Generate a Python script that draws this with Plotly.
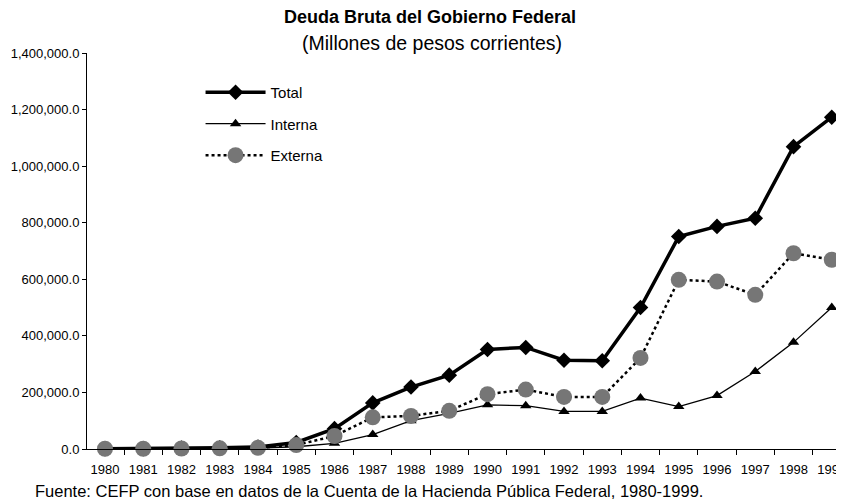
import plotly.graph_objects as go

years = [str(y) for y in range(1980, 2000)]
total = [1200, 1500, 3000, 4000, 7000, 23000, 72000, 163000, 219000, 261000,
         352000, 359000, 314000, 312000, 500000, 751000, 787000, 816000, 1069000, 1173000]
interna = [400, 600, 1200, 1500, 3000, 8000, 20000, 51000, 100000, 126000,
           156000, 153000, 133000, 133000, 180000, 150000, 189000, 274000, 377000, 500000]
externa = [800, 900, 1800, 2500, 4000, 14000, 46000, 112000, 117000, 135000,
           194000, 210000, 184000, 184000, 322000, 598000, 592000, 545000, 692000, 669000]

title_text = "<b>Deuda Bruta del Gobierno Federal</b>"
subtitle_text = "(Millones de pesos corrientes)"
source_text = "Fuente: CEFP con base en datos de la Cuenta de la Hacienda Pública Federal, 1980-1999."

FONT = "Liberation Sans, Arial, sans-serif"

fig = go.Figure()
fig.add_trace(go.Scatter(
    x=years, y=total, name="Total", mode="lines+markers",
    line=dict(color="black", width=3.5),
    marker=dict(symbol="diamond", size=12, color="black"),
    cliponaxis=False, legendgroup="a"))
fig.add_trace(go.Scatter(
    x=years, y=interna, name="Interna", mode="lines+markers",
    line=dict(color="black", width=1.3),
    marker=dict(symbol="triangle-up", size=10, color="black"),
    cliponaxis=False, legendgroup="b"))
fig.add_trace(go.Scatter(
    x=years, y=externa, name="Externa", mode="lines+markers",
    line=dict(color="black", width=2.5, dash="dot"),
    marker=dict(symbol="circle", size=16, color="#767676"),
    cliponaxis=False, legendgroup="c"))

# the page body has an 8px margin, so the figure is 8px smaller and offset
fig.update_layout(
    width=836, height=495,
    margin=dict(l=79, r=0, t=45, b=54, autoexpand=False),
    paper_bgcolor="white", plot_bgcolor="white",
    font=dict(family=FONT, color="black"),
    showlegend=True,
    legend=dict(x=0.150, y=0.942, xanchor="left", yanchor="top",
                font=dict(size=15, family=FONT), bgcolor="rgba(0,0,0,0)",
                traceorder="grouped", tracegroupgap=9, itemwidth=60),
    xaxis=dict(type="category", range=[-0.47, 19.32], showline=True, linecolor="black",
               linewidth=1, ticks="outside", tickson="boundaries", ticklen=5,
               tickcolor="black", showgrid=False, zeroline=False, automargin=False,
               ticklabelstandoff=8,
               tickfont=dict(size=13, family=FONT)),
    yaxis=dict(range=[0, 1400000], dtick=200000, tickformat=",.1f", showline=True,
               linecolor="black", linewidth=1, ticks="outside", ticklen=4,
               tickcolor="black", showgrid=False, zeroline=False, automargin=False,
               tickfont=dict(size=13, family=FONT)),
    annotations=[
        dict(text=title_text, xref="paper", yref="paper", x=0.453, y=1.0917,
             xanchor="center", yanchor="middle", showarrow=False,
             font=dict(size=18, family=FONT)),
        dict(text=subtitle_text, xref="paper", yref="paper", x=0.456, y=1.026,
             xanchor="center", yanchor="middle", showarrow=False,
             font=dict(size=19.5, family=FONT)),
        dict(text=source_text, xref="paper", yref="paper", x=-0.0713, y=-0.105,
             xanchor="left", yanchor="middle", showarrow=False,
             font=dict(size=16.5, family=FONT)),
    ],
)

fig.write_html("out.html")
